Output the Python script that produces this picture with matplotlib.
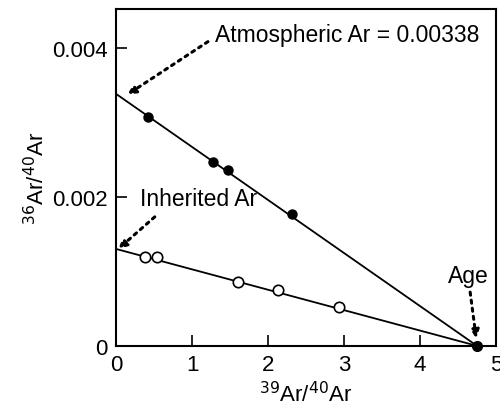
import matplotlib.pyplot as plt
import numpy as np

plt.rcParams['font.family'] = ['Liberation Sans', 'DejaVu Sans']

# isochron data (39Ar/40Ar, 36Ar/40Ar)
x_closed = [0.42, 1.28, 1.47, 2.32]
y_closed = [0.00307, 0.00247, 0.00236, 0.00177]
x_open = [0.38, 0.54, 1.60, 2.13, 2.93]
y_open = [0.00119, 0.00119, 0.00085, 0.00075, 0.00052]

atm_ar = 0.00338
inherited_ar = 0.0013
age_x = 4.75

xticks = [0, 1, 2, 3, 4, 5]
yticks = [0, 0.002, 0.004]
ytick_labels = ['0', '0.002', '0.004']

fig = plt.figure(figsize=(5, 4.1), dpi=100)
ax = fig.add_axes([0.232, 0.154, 0.76, 0.822])

ax.plot([0, age_x], [atm_ar, 0], color='k', lw=1.3, zorder=2)
ax.plot([0, age_x], [inherited_ar, 0], color='k', lw=1.3, zorder=2)
ax.plot(x_closed, y_closed, 'o', ms=6.5, color='k', zorder=3)
ax.plot(x_open, y_open, 'o', ms=7.5, mfc='white', mec='k', mew=1.2, zorder=3)
ax.plot([age_x], [0], 'o', ms=7, color='k', zorder=4, clip_on=False)

arrow = dict(arrowstyle='-|>', linestyle=':', lw=2.2, color='k',
             mutation_scale=12, shrinkA=0, shrinkB=0)
ax.text(1.30, 0.00417, 'Atmospheric Ar = 0.00338', fontsize=16.5,
        ha='left', va='center')
ax.annotate('', xy=(0.15, 0.00337), xytext=(1.21, 0.00408), arrowprops=arrow)
ax.text(0.32, 0.00198, 'Inherited Ar', fontsize=16.5, ha='left', va='center')
ax.annotate('', xy=(0.03, 0.0013), xytext=(0.51, 0.00173), arrowprops=arrow)
ax.text(4.64, 0.00095, 'Age', fontsize=16.5, ha='center', va='center')
ax.annotate('', xy=(4.74, 0.0001), xytext=(4.66, 0.00072), arrowprops=arrow)

ax.set_xlim(0, 5)
ax.set_ylim(0, 0.00452)
ax.set_xticks(xticks)
ax.set_yticks(yticks)
ax.set_yticklabels(ytick_labels)
ax.tick_params(direction='in', length=8, width=1.2, labelsize=16, pad=6)
for s in ax.spines.values():
    s.set_linewidth(1.5)

ax.set_xlabel('$^{39}$Ar/$^{40}$Ar', fontsize=16, labelpad=4)
ax.set_ylabel('$^{36}$Ar/$^{40}$Ar', fontsize=16, labelpad=2)

fig.savefig('out.png', dpi=100)
